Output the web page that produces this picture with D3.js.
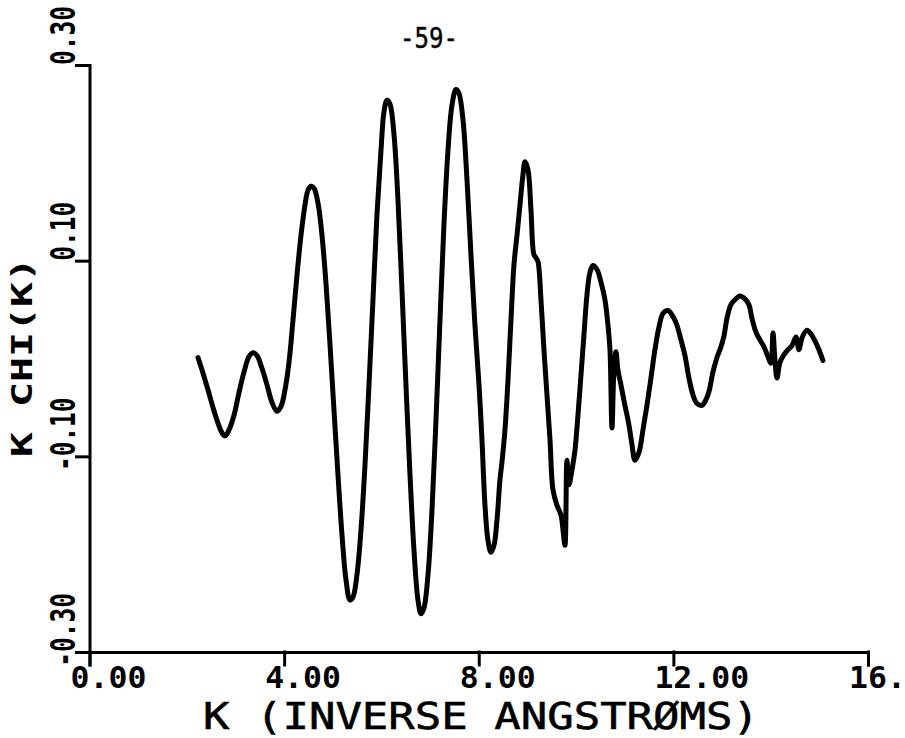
<!DOCTYPE html>
<html>
<head>
<meta charset="utf-8">
<script src="https://cdn.jsdelivr.net/npm/d3@7"></script>
<style>
  html, body { margin: 0; padding: 0; background: #fff; }
  svg { display: block; }
  text { font-family: "DejaVu Sans Mono", "Liberation Mono", monospace; fill: #000; }
</style>
</head>
<body>
<svg id="chart" width="905" height="738"></svg>
<script>
// k-weighted EXAFS oscillation, k*chi(k) versus photoelectron wavenumber k
const kValues = [
  2.230, 2.333, 2.435, 2.538, 2.641, 2.723, 2.785, 2.867, 2.970, 3.072,
  3.175, 3.278, 3.360, 3.442, 3.545, 3.648, 3.751, 3.853, 3.936, 4.018,
  4.100, 4.182, 4.264, 4.347, 4.429, 4.490, 4.552, 4.614, 4.696, 4.778,
  4.860, 4.943, 5.025, 5.107, 5.189, 5.271, 5.354, 5.415, 5.497, 5.580,
  5.662, 5.744, 5.826, 5.908, 5.991, 6.052, 6.114, 6.176, 6.258, 6.340,
  6.422, 6.504, 6.587, 6.669, 6.751, 6.813, 6.874, 6.957, 7.039, 7.121,
  7.203, 7.285, 7.368, 7.450, 7.532, 7.594, 7.676, 7.758, 7.840, 7.922,
  8.005, 8.066, 8.128, 8.190, 8.251, 8.313, 8.375, 8.436, 8.477, 8.539,
  8.601, 8.662, 8.724, 8.786, 8.847, 8.909, 8.950, 9.012, 9.073, 9.135,
  9.176, 9.217, 9.279, 9.340, 9.402, 9.464, 9.525, 9.607, 9.690, 9.731,
  9.772, 9.813, 9.854, 9.916, 9.977, 10.039, 10.101, 10.162, 10.224, 10.286,
  10.347, 10.430, 10.512, 10.594, 10.656, 10.697, 10.738, 10.779, 10.820, 10.861,
  10.923, 11.005, 11.087, 11.149, 11.210, 11.293, 11.375, 11.457, 11.539, 11.621,
  11.704, 11.786, 11.889, 11.991, 12.074, 12.156, 12.238, 12.320, 12.402, 12.485,
  12.587, 12.670, 12.731, 12.813, 12.896, 12.978, 13.040, 13.101, 13.183, 13.265,
  13.368, 13.471, 13.553, 13.615, 13.697, 13.779, 13.861, 13.943, 14.005, 14.047,
  14.088, 14.129, 14.190, 14.273, 14.355, 14.437, 14.519, 14.581, 14.643, 14.745,
  14.828, 14.910, 14.992, 15.074
];
const kChiValues = [
  0.001, -0.015, -0.032, -0.050, -0.066, -0.076, -0.079, -0.073, -0.058, -0.035,
  -0.014, 0.002, 0.006, 0.003, -0.010, -0.027, -0.045, -0.054, -0.049, -0.032,
  -0.004, 0.039, 0.085, 0.126, 0.157, 0.172, 0.176, 0.174, 0.159, 0.126,
  0.077, 0.014, -0.053, -0.119, -0.180, -0.226, -0.247, -0.244, -0.221, -0.175,
  -0.109, -0.027, 0.060, 0.147, 0.213, 0.252, 0.264, 0.260, 0.229, 0.162,
  0.070, -0.027, -0.119, -0.196, -0.247, -0.261, -0.255, -0.221, -0.155, -0.063,
  0.039, 0.137, 0.213, 0.259, 0.275, 0.271, 0.244, 0.183, 0.106, 0.034,
  -0.027, -0.083, -0.150, -0.186, -0.198, -0.191, -0.165, -0.124, -0.106, -0.073,
  -0.022, 0.039, 0.096, 0.126, 0.157, 0.188, 0.201, 0.193, 0.152, 0.106,
  0.103, 0.099, 0.060, 0.009, -0.037, -0.083, -0.134, -0.150, -0.160, -0.175,
  -0.191, -0.104, -0.129, -0.114, -0.094, -0.058, -0.017, 0.024, 0.065, 0.088,
  0.095, 0.091, 0.078, 0.060, 0.034, 0.009, -0.071, -0.012, 0.007, -0.012,
  -0.027, -0.048, -0.068, -0.088, -0.104, -0.096, -0.073, -0.048, -0.020, 0.009,
  0.032, 0.046, 0.049, 0.043, 0.034, 0.019, 0.003, -0.020, -0.037, -0.046,
  -0.048, -0.042, -0.034, -0.014, 0.001, 0.012, 0.023, 0.041, 0.055, 0.060,
  0.064, 0.061, 0.055, 0.041, 0.027, 0.019, 0.012, 0.002, -0.005, 0.026,
  -0.002, -0.020, -0.004, 0.004, 0.009, 0.013, 0.022, 0.009, 0.021, 0.029,
  0.025, 0.018, 0.009, -0.002
];

const xTicks = [0, 4, 8, 12, 16];
const xTickLabels = ["0.00", "4.00", "8.00", "12.00", "16."];
const yTicks = [-0.30, -0.10, 0.10, 0.30];
const yTickLabels = ["-0.30", "-0.10", "0.10", "0.30"];
const xTitle = "K (INVERSE ANGSTRØMS)";
const yTitle = "K CHI(K)";
const pageMark = "-59-";

const svg = d3.select("#chart");

const x = d3.scaleLinear().domain([0, 16]).range([89.5, 868]);
const y = d3.scaleLinear().domain([-0.30, 0.30]).range([652, 65]);

const tickLen = 13;

// axes: outward ticks, corner ticks extend past the origin
const xAxis = d3.axisBottom(x).tickValues(xTicks).tickSize(tickLen).tickSizeOuter(tickLen).tickFormat("");
const yAxis = d3.axisLeft(y).tickValues(yTicks).tickSize(tickLen).tickSizeOuter(tickLen).tickFormat("");

const gx = svg.append("g").attr("transform", `translate(0,${y(-0.30)})`).call(xAxis);
const gy = svg.append("g").attr("transform", `translate(${x(0)},0)`).call(yAxis);
[gx, gy].forEach(g => {
  g.selectAll("path, line").attr("stroke", "#000").attr("stroke-width", 3)
    .attr("stroke-linecap", "square");
});

// x tick labels: plotter lettering, first character cell sits left of the tick
const xLabelSize = 30, xLabelStretch = 1.05;
const xCell = xLabelSize * 0.602 * xLabelStretch;
svg.append("g").selectAll("text").data(xTicks).join("text")
  .attr("transform", (d, i) => `translate(${x(d) - xCell},688) scale(${xLabelStretch},1)`)
  .attr("font-size", xLabelSize)
  .attr("font-weight", "bold")
  .text((d, i) => xTickLabels[i]);

// y tick labels: rotated, first digit starts at the tick, minus sign below it
const yLabelSize = 34, yLabelStretch = 0.72;
const yCell = yLabelSize * 0.602 * yLabelStretch;
svg.append("g").selectAll("text").data(yTicks).join("text")
  .attr("transform", (d, i) => {
    const off = yTickLabels[i].startsWith("-") ? yCell : 0;
    return `translate(75,${y(d) + off}) rotate(-90) scale(${yLabelStretch},1)`;
  })
  .attr("font-size", yLabelSize)
  .attr("font-weight", "bold")
  .text((d, i) => yTickLabels[i]);

// axis titles
svg.append("text")
  .attr("x", 203).attr("y", 729)
  .attr("font-size", 38)
  .attr("stroke", "#000").attr("stroke-width", 0.6)
  .attr("textLength", 556)
  .attr("lengthAdjust", "spacingAndGlyphs")
  .text(xTitle);

svg.append("text")
  .attr("transform", `translate(32,457) rotate(-90)`)
  .attr("font-size", 28)
  .attr("font-weight", "bold")
  .attr("textLength", 200)
  .attr("lengthAdjust", "spacingAndGlyphs")
  .text(yTitle);

// page number, typed in a plain sans face
svg.append("text")
  .attr("x", 400).attr("y", 48)
  .attr("font-family", "'Liberation Sans', Arial, sans-serif")
  .attr("font-size", 29)
  .attr("fill", "#111")
  .attr("stroke", "#111").attr("stroke-width", 0.5)
  .attr("textLength", 58)
  .attr("lengthAdjust", "spacingAndGlyphs")
  .text(pageMark);

// the k*chi(k) trace
const points = kValues.map((k, i) => [k, kChiValues[i]]);
const line = d3.line()
  .x(d => x(d[0]))
  .y(d => y(d[1]))
  .curve(d3.curveCatmullRom.alpha(0.5));

svg.append("path")
  .datum(points)
  .attr("d", line)
  .attr("fill", "none")
  .attr("stroke", "#000")
  .attr("stroke-width", 5)
  .attr("stroke-linejoin", "round")
  .attr("stroke-linecap", "round");
</script>
</body>
</html>
